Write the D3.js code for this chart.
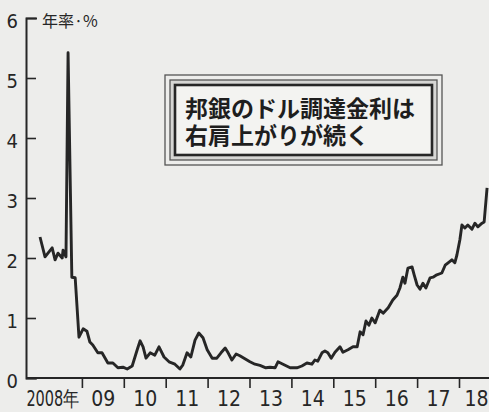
<!DOCTYPE html>
<html>
<head>
<meta charset="utf-8">
<script src="https://cdn.jsdelivr.net/npm/d3@7"></script>
<style>
body { margin: 0; background: #ededeb; }
svg { display: block; }
</style>
</head>
<body>
<svg id="chart" width="489" height="412"></svg>
<script>
// 邦銀のドル調達金利 (年率・%)
const yearTicks = [2009, 2010, 2011, 2012, 2013, 2014, 2015, 2016, 2017, 2018];
const yearLabels = ["2008年", "09", "10", "11", "12", "13", "14", "15", "16", "17", "18"];
const rateTicks = [0, 1, 2, 3, 4, 5, 6];
const unitLabel = "年率·%";
const noteLines = ["邦銀のドル調達金利は", "右肩上がりが続く"];

const dates = [
    2008.00, 2008.12, 2008.29, 2008.36, 2008.43, 2008.53, 2008.55, 2008.62, 2008.67, 2008.76,
    2008.84, 2008.93, 2009.03, 2009.12, 2009.19, 2009.26, 2009.38, 2009.48, 2009.62, 2009.74,
    2009.86, 2009.98, 2010.08, 2010.20, 2010.32, 2010.39, 2010.46, 2010.53, 2010.63, 2010.74,
    2010.84, 2010.96, 2011.08, 2011.22, 2011.34, 2011.41, 2011.51, 2011.60, 2011.70, 2011.79,
    2011.89, 2011.99, 2012.11, 2012.22, 2012.32, 2012.42, 2012.49, 2012.58, 2012.68, 2012.77,
    2012.89, 2013.01, 2013.13, 2013.25, 2013.39, 2013.49, 2013.61, 2013.68, 2013.80, 2013.97,
    2014.13, 2014.25, 2014.37, 2014.49, 2014.56, 2014.63, 2014.73, 2014.80, 2014.87, 2014.95,
    2015.04, 2015.16, 2015.23, 2015.35, 2015.47, 2015.57, 2015.64, 2015.71, 2015.78, 2015.85,
    2015.92, 2016.00, 2016.11, 2016.19, 2016.31, 2016.42, 2016.52, 2016.59, 2016.66, 2016.71,
    2016.78, 2016.88, 2016.93, 2017.00, 2017.07, 2017.14, 2017.21, 2017.31, 2017.38, 2017.47,
    2017.59, 2017.67, 2017.74, 2017.83, 2017.90, 2017.95, 2018.02, 2018.07, 2018.14, 2018.21,
    2018.31, 2018.38, 2018.45, 2018.55, 2018.60, 2018.67
];
const rates = [
    2.35, 2.02, 2.17, 1.97, 2.08, 2.00, 2.13, 2.02, 5.42, 1.68,
    1.67, 0.68, 0.82, 0.78, 0.60, 0.55, 0.42, 0.42, 0.25, 0.25,
    0.17, 0.18, 0.15, 0.20, 0.47, 0.62, 0.52, 0.33, 0.42, 0.38,
    0.52, 0.35, 0.27, 0.23, 0.15, 0.22, 0.42, 0.35, 0.63, 0.75,
    0.67, 0.47, 0.33, 0.33, 0.42, 0.50, 0.42, 0.30, 0.40, 0.37,
    0.32, 0.27, 0.23, 0.21, 0.17, 0.18, 0.17, 0.27, 0.23, 0.17,
    0.17, 0.20, 0.25, 0.23, 0.30, 0.28, 0.42, 0.45, 0.42, 0.33,
    0.43, 0.52, 0.43, 0.47, 0.52, 0.52, 0.77, 0.72, 0.95, 0.88,
    1.00, 0.92, 1.13, 1.08, 1.17, 1.30, 1.38, 1.50, 1.68, 1.58,
    1.83, 1.85, 1.72, 1.55, 1.48, 1.58, 1.50, 1.67, 1.68, 1.72,
    1.75, 1.88, 1.92, 1.97, 1.92, 2.05, 2.30, 2.55, 2.50, 2.55,
    2.48, 2.58, 2.52, 2.58, 2.60, 3.17
];

const INK = "#262626";
const NUM_FONT = "'Liberation Sans Narrow', 'DejaVu Sans Condensed', 'Liberation Sans', sans-serif";
const CJK_FONT = "'Noto Sans CJK JP', 'Noto Sans', sans-serif";

const svg = d3.select("#chart");
const axisX = 26;

const x = d3.scaleLinear().domain([2008, 2019]).range([40, 500.9]);
const y = d3.scaleLinear().domain([0, 6]).range([378, 18]);

svg.append("rect")
    .attr("width", 489)
    .attr("height", 412)
    .attr("fill", "#ededeb");

// x baseline + year boundary ticks
svg.append("line")
    .attr("x1", axisX)
    .attr("x2", 489)
    .attr("y1", y(0))
    .attr("y2", y(0))
    .attr("stroke", INK)
    .attr("stroke-width", 2);

const xTicks = svg.append("g")
    .attr("transform", "translate(0," + y(0) + ")")
    .call(d3.axisBottom(x)
        .tickValues(yearTicks)
        .tickSize(10)
        .tickFormat(""));
xTicks.select(".domain").remove();
xTicks.selectAll(".tick line")
    .attr("stroke", INK)
    .attr("stroke-width", 1.6);

// y axis: ticks point right, top outer tick makes the ┌ corner
const yAxis = svg.append("g")
    .attr("transform", "translate(" + axisX + ",0)")
    .call(d3.axisLeft(y)
        .tickValues(rateTicks)
        .tickFormat(d3.format("d"))
        .tickSizeInner(-10)
        .tickSizeOuter(-11)
        .tickPadding(8));
yAxis.select(".domain")
    .attr("stroke", INK)
    .attr("stroke-width", 2);
yAxis.selectAll(".tick line")
    .attr("stroke", INK)
    .attr("stroke-width", 1.6);
yAxis.selectAll(".tick text")
    .attr("fill", INK)
    .attr("dy", "0.45em")
    .style("font-family", NUM_FONT)
    .style("font-size", "20px");

// year labels sit in the middle of each year
const xLabels = svg.append("g")
    .attr("transform", "translate(0," + y(0) + ")")
    .call(d3.axisBottom(x)
        .tickValues(yearLabels.map((d, i) => 2008.5 + i))
        .tickSize(0)
        .tickPadding(13)
        .tickFormat((d, i) => yearLabels[i]));
xLabels.select(".domain").remove();
xLabels.selectAll(".tick text")
    .attr("fill", INK)
    .style("font-family", NUM_FONT)
    .style("font-size", "21px");
xLabels.selectAll(".tick text")
    .filter((d, i) => i === 0)
    .attr("text-anchor", "end")
    .attr("x", x(2009) - x(2008.5) - 3)
    .attr("textLength", 53)
    .attr("lengthAdjust", "spacingAndGlyphs");
xLabels.selectAll(".tick text")
    .filter((d, i) => i === yearLabels.length - 1)
    .attr("x", -4);

svg.append("text")
    .attr("x", 42)
    .attr("y", 27)
    .attr("fill", INK)
    .style("font-family", CJK_FONT)
    .style("font-size", "16px")
    .text(unitLabel);

// the rate line
const line = d3.line()
    .x((d, i) => x(dates[i]))
    .y(d => y(d));

svg.append("path")
    .datum(rates)
    .attr("fill", "none")
    .attr("stroke", INK)
    .attr("stroke-width", 2.9)
    .attr("stroke-linejoin", "round")
    .attr("d", line);

// annotation box with triple frame
const box = {x: 175, y: 85, w: 257, h: 70};
[10, 5].forEach(pad => {
    svg.append("rect")
        .attr("x", box.x - pad)
        .attr("y", box.y - pad)
        .attr("width", box.w + pad * 2)
        .attr("height", box.h + pad * 2)
        .attr("fill", pad === 10 ? "#ededeb" : "#d6d6d4")
        .attr("stroke", "#555")
        .attr("stroke-width", 1.3);
});
svg.append("rect")
    .attr("x", box.x)
    .attr("y", box.y)
    .attr("width", box.w)
    .attr("height", box.h)
    .attr("fill", "#f3f3f1")
    .attr("stroke", INK)
    .attr("stroke-width", 2.6);

svg.append("g")
    .selectAll("text")
    .data(noteLines)
    .join("text")
    .attr("x", 185)
    .attr("y", (d, i) => 117 + i * 27)
    .attr("fill", "#1e1e1e")
    .style("font-family", CJK_FONT)
    .style("font-weight", 700)
    .style("font-size", "23px")
    .text(d => d);
</script>
</body>
</html>
